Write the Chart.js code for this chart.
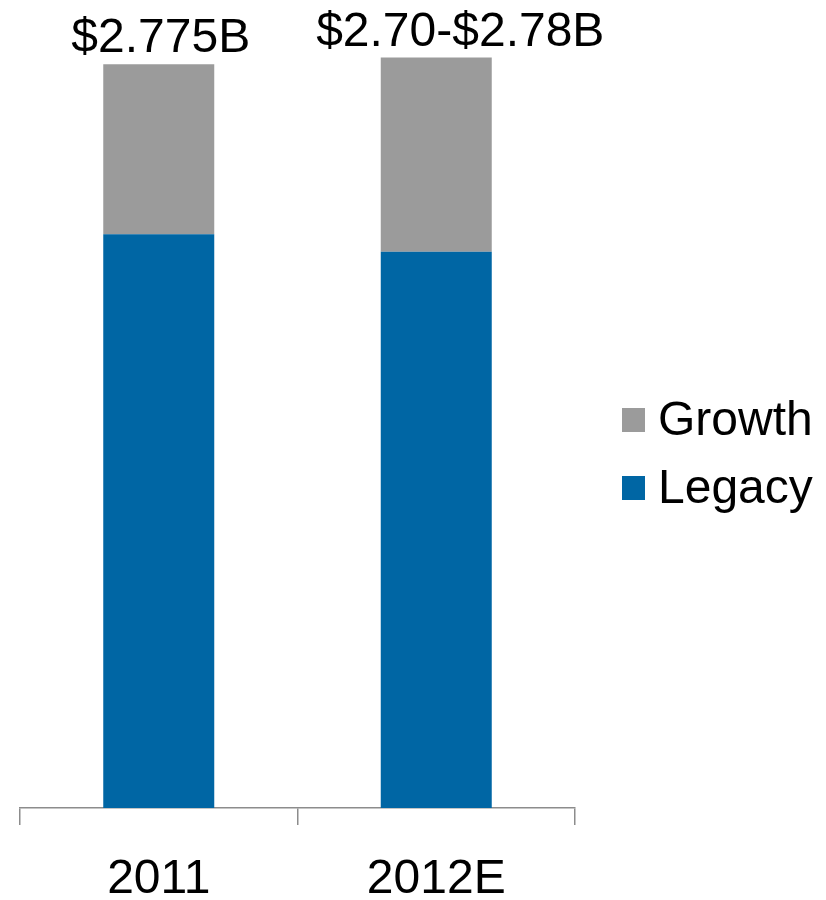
<!DOCTYPE html>
<html>
<head>
<meta charset="utf-8">
<script src="https://cdn.jsdelivr.net/npm/chart.js@4"></script>
<style>
  html, body { margin: 0; padding: 0; background: #fff; }
  #wrap { width: 826px; height: 900px; }
</style>
</head>
<body>
<div id="wrap"><canvas id="revChart" width="826" height="900"></canvas></div>
<script>
// Chart data (values in $B)
const categories = ['2011', '2012E'];
const legacyValues = [2.141, 2.076];
const growthValues = [0.634, 0.724];
const totalLabels = ['$2.775B', '$2.70-$2.78B'];

const FONT = '"Liberation Sans", Arial, sans-serif';
const GREY = '#9b9b9b';
const BLUE = '#0066a4';

// Total label above each stacked bar (2nd one sits a bit right of centre in the original)
const totalsPlugin = {
    id: 'totals',
    afterDatasetsDraw(chart) {
        const ctx = chart.ctx;
        const topMeta = chart.getDatasetMeta(chart.data.datasets.length - 1);
        const shift = [2, 24];
        ctx.save();
        ctx.font = '48px ' + FONT;
        ctx.fillStyle = '#000';
        ctx.textAlign = 'center';
        ctx.textBaseline = 'alphabetic';
        topMeta.data.forEach((bar, i) => {
            ctx.fillText(totalLabels[i], bar.x + shift[i], bar.y - 12);
        });
        ctx.restore();
    }
};

// Legend on the right side, Growth above Legacy
const sideLegend = {
    id: 'sideLegend',
    afterDraw(chart) {
        const ctx = chart.ctx;
        const items = chart.data.datasets.slice().reverse();
        ctx.save();
        ctx.font = '48px ' + FONT;
        ctx.textBaseline = 'alphabetic';
        ctx.textAlign = 'left';
        items.forEach((ds, i) => {
            const base = 435 + i * 68;
            ctx.fillStyle = ds.backgroundColor;
            ctx.fillRect(622, base - 27, 23, 24);
            ctx.fillStyle = '#000';
            ctx.fillText(ds.label, 658, base);
        });
        ctx.restore();
    }
};

const ctx = document.getElementById('revChart').getContext('2d');
const revChart = new Chart(ctx, {
    type: 'bar',
    data: {
        labels: categories,
        datasets: [{
            label: 'Legacy',
            data: legacyValues,
            backgroundColor: BLUE,
            borderWidth: 0,
            barPercentage: 0.4,
            categoryPercentage: 1.0
        }, {
            label: 'Growth',
            data: growthValues,
            backgroundColor: GREY,
            borderWidth: 0,
            barPercentage: 0.4,
            categoryPercentage: 1.0
        }]
    },
    options: {
        responsive: false,
        animation: false,
        layout: {
            padding: { left: 20, right: 251, top: 4, bottom: 0 }
        },
        plugins: {
            legend: { display: false },
            tooltip: { enabled: false }
        },
        scales: {
            x: {
                stacked: true,
                afterFit(scale) { scale.height = 92; },
                grid: {
                    offset: true,
                    drawOnChartArea: false,
                    drawTicks: true,
                    tickLength: 17,
                    color: '#8c8c8c',
                    lineWidth: 1.5
                },
                border: { display: true, color: '#8c8c8c', width: 1.5 },
                ticks: {
                    color: '#000',
                    padding: 26,
                    font: { family: FONT, size: 48 }
                }
            },
            y: {
                stacked: true,
                display: false,
                min: 0,
                max: 3.0
            }
        }
    },
    plugins: [totalsPlugin, sideLegend]
});
</script>
</body>
</html>
